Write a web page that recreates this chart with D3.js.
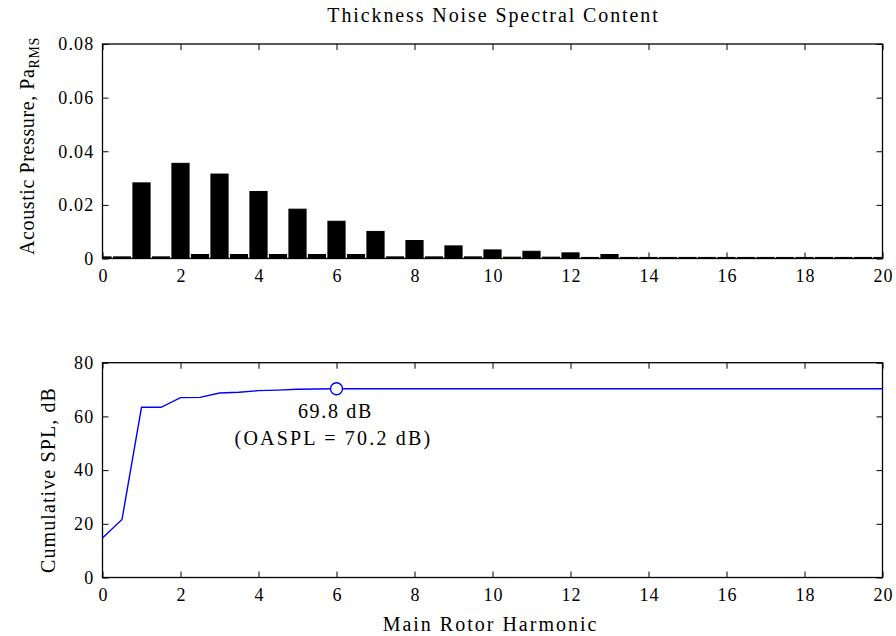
<!DOCTYPE html>
<html>
<head>
<meta charset="utf-8">
<script src="https://cdn.jsdelivr.net/npm/d3@7"></script>
<style>
  html, body { margin: 0; padding: 0; background: #fff; }
  svg { display: block; }
  text { font-family: "Liberation Serif", "Times New Roman", serif; fill: #000; }
</style>
</head>
<body>
<svg id="chart" width="896" height="636"></svg>
<script>
// ---- data ----
const harmonics = [0,0.5,1,1.5,2,2.5,3,3.5,4,4.5,5,5.5,6,6.5,7,7.5,8,8.5,9,9.5,10,10.5,11,11.5,12,12.5,13,13.5,14,14.5,15,15.5,16,16.5,17,17.5,18,18.5,19,19.5,20];
const pressure = [0.0006,0.0006,0.0282,0.0006,0.0355,0.0015,0.0315,0.0015,0.0250,0.0015,0.0184,0.0015,0.0139,0.0015,0.0101,0.0006,0.0067,0.0006,0.0047,0.0006,0.0032,0.0005,0.0027,0.0005,0.0021,0.0004,0.0015,0.0004,0.0004,0.0004,0.0004,0.0004,0.0004,0.0004,0.0004,0.0004,0.0004,0.0004,0.0004,0.0004,0.0004];
const cumSPL = [14.7,21.6,63.4,63.4,67.0,67.1,68.7,69.0,69.6,69.8,70.1,70.2,70.3,70.3,70.3,70.3,70.3,70.3,70.3,70.3,70.3,70.3,70.3,70.3,70.3,70.3,70.3,70.3,70.3,70.3,70.3,70.3,70.3,70.3,70.3,70.3,70.3,70.3,70.3,70.3,70.3];
const xTicks = [0,2,4,6,8,10,12,14,16,18,20];
const yTicksTop = [0,0.02,0.04,0.06,0.08];
const yTickLabelsTop = ["0","0.02","0.04","0.06","0.08"];
const yTicksBot = [0,20,40,60,80];
const markerX = 6;
const markerVal = 70.3;
const title = "Thickness Noise Spectral Content";
const yLabelTop = "Acoustic Pressure, Pa";
const yLabelTopSub = "RMS";
const yLabelBot = "Cumulative SPL, dB";
const xLabel = "Main Rotor Harmonic";
const annot1 = "69.8 dB";
const annot2 = "(OASPL = 70.2 dB)";

// ---- layout ----
const svg = d3.select("#chart");
const L = 102.5, R = 882.5;
const top1 = 44, bot1 = 258.5;
const top2 = 362.7, bot2 = 577.5;
const tickLen = 6;
const fs = 18, tls = 1.2;      // tick font size / letter spacing
const lfs = 20, lls = 2;       // label font size / letter spacing

const x = d3.scaleLinear().domain([0,20]).range([L,R]);
const y1 = d3.scaleLinear().domain([0,0.08]).range([bot1,top1]);
const y2 = d3.scaleLinear().domain([0,80]).range([bot2,top2]);

function frame(yScale, ticksY, labelsY, yTop, yBot) {
  const g = svg.append("g");
  const ab = g.append("g").attr("transform", `translate(0,${yBot})`)
    .call(d3.axisBottom(x).tickValues(xTicks).tickSizeInner(-tickLen).tickSizeOuter(0).tickPadding(11).tickFormat(d3.format("d")));
  const at = g.append("g").attr("transform", `translate(0,${yTop})`)
    .call(d3.axisTop(x).tickValues(xTicks).tickSizeInner(-tickLen).tickSizeOuter(0).tickFormat(""));
  const al = g.append("g").attr("transform", `translate(${L},0)`)
    .call(d3.axisLeft(yScale).tickValues(ticksY).tickSizeInner(-tickLen).tickSizeOuter(0).tickPadding(8)
      .tickFormat((d,i) => labelsY[i]));
  const ar = g.append("g").attr("transform", `translate(${R},0)`)
    .call(d3.axisRight(yScale).tickValues(ticksY).tickSizeInner(-tickLen).tickSizeOuter(0).tickFormat(""));
  [ab,at,al,ar].forEach(a => {
    a.select(".domain").remove();
    a.selectAll("line").attr("stroke","#000").attr("stroke-width",1);
    a.selectAll("text").attr("font-family","Liberation Serif, serif").attr("font-size",fs)
      .attr("letter-spacing",tls).attr("fill","#000");
  });
  ab.selectAll("text").attr("dx", tls/2);
  g.append("rect").attr("x",L).attr("y",yTop).attr("width",R-L).attr("height",yBot-yTop)
    .attr("fill","none").attr("stroke","#000").attr("stroke-width",1.3);
  return g;
}

// ---- top panel ----
const bw = 0.44;
svg.append("clipPath").attr("id","clipTop").append("rect")
  .attr("x",L).attr("y",top1).attr("width",R-L).attr("height",bot1-top1);
svg.append("g").attr("clip-path","url(#clipTop)")
  .selectAll("rect").data(harmonics).join("rect")
  .attr("x", d => x(d - bw/2))
  .attr("width", d => x(bw) - x(0))
  .attr("y", (d,i) => y1(pressure[i]))
  .attr("height", (d,i) => y1(0) - y1(pressure[i]))
  .attr("fill","#000").attr("stroke","#000").attr("stroke-width",1);
frame(y1, yTicksTop, yTickLabelsTop, top1, bot1);

svg.append("text").attr("x",(L+R)/2 + lls/2).attr("y",22).attr("text-anchor","middle")
  .attr("font-size",lfs).attr("letter-spacing",1.9).text(title);

const yl1 = svg.append("text").attr("transform",`translate(34,146) rotate(-90)`)
  .attr("text-anchor","middle").attr("font-size",lfs).attr("letter-spacing",0.6);
yl1.append("tspan").text(yLabelTop);
yl1.append("tspan").attr("dy",5).attr("font-size",14).text(yLabelTopSub);

// ---- bottom panel ----
frame(y2, yTicksBot, yTicksBot.map(String), top2, bot2);
const line = d3.line().x(d => x(d)).y((d,i) => y2(cumSPL[i]));
svg.append("path").datum(harmonics).attr("d", line)
  .attr("fill","none").attr("stroke","#0000ff").attr("stroke-width",1.4);
svg.append("circle").attr("cx",x(markerX)).attr("cy",y2(markerVal)).attr("r",6)
  .attr("fill","#fff").attr("stroke","#0000ff").attr("stroke-width",1.4);

svg.append("text").attr("x",x(markerX)-1).attr("y",y2(markerVal)+29).attr("text-anchor","middle")
  .attr("font-size",lfs).attr("letter-spacing",1.7).text(annot1);
svg.append("text").attr("x",x(markerX)-3).attr("y",y2(markerVal)+56).attr("text-anchor","middle")
  .attr("font-size",lfs).attr("letter-spacing",2.2).text(annot2);

svg.append("text").attr("transform",`translate(55,480) rotate(-90)`)
  .attr("text-anchor","middle").attr("font-size",lfs).attr("letter-spacing",1.1).text(yLabelBot);
svg.append("text").attr("x",(L+R)/2 - 2).attr("y",631).attr("text-anchor","middle")
  .attr("font-size",lfs).attr("letter-spacing",2).text(xLabel);
</script>
</body>
</html>
